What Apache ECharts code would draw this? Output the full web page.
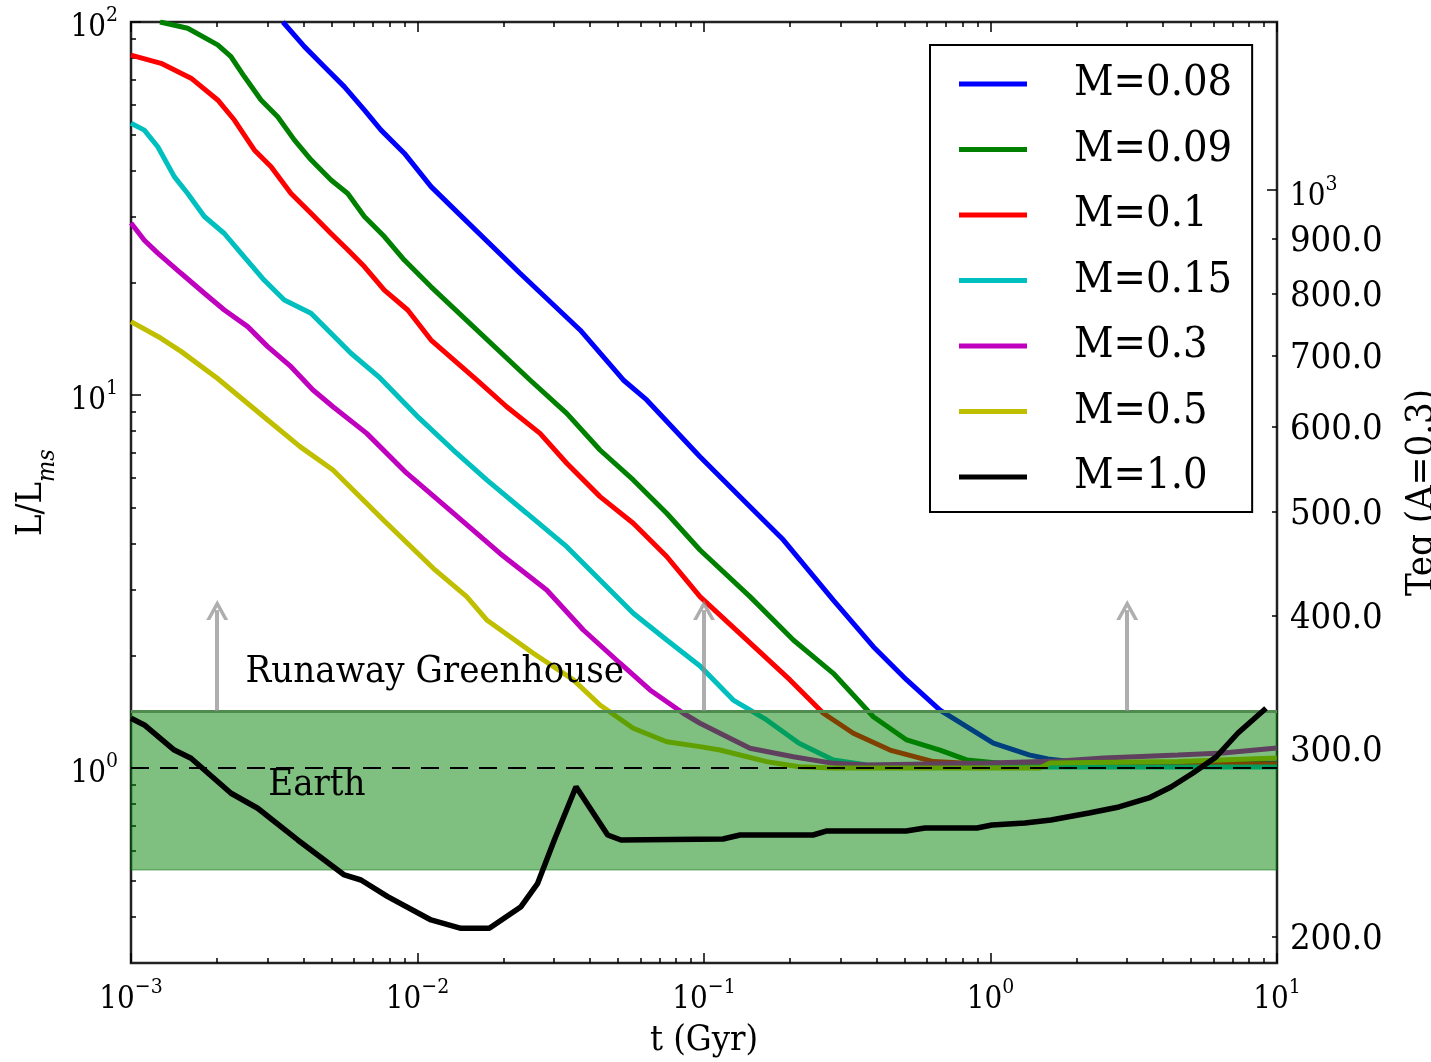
<!DOCTYPE html>
<html>
<head>
<meta charset="utf-8">
<script src="https://cdn.jsdelivr.net/npm/echarts@6/dist/echarts.min.js"></script>
<style>html,body{margin:0;padding:0;background:#fff}#c{width:1431px;height:1062px}</style>
</head>
<body>
<div id="c"></div>
<script>
const FONT = "'DejaVu Serif Condensed', 'DejaVu Serif', serif";

// ---- series data: t (Gyr) and L/Lms for each stellar mass ----
const t008 = [0.00339,0.00403,0.00473,0.00555,0.00652,0.00746,0.00899,0.01115,0.01407,0.02279,0.03693,0.05228,0.0631,0.09683,0.1371,0.1891,0.2827,0.3899,0.5099,0.6664,0.8258,1.023,1.363,1.587,1.956,3.603,10];
const L008 = [100,85.9,75.9,67.1,58.1,51.3,44.5,36.2,30.4,21.2,14.94,10.97,9.70,6.83,5.23,4.09,2.82,2.114,1.722,1.430,1.290,1.165,1.084,1.057,1.038,1.031,1.031];

const t009 = [0.001263,0.001577,0.002007,0.002234,0.002486,0.002843,0.003251,0.003715,0.004249,0.00499,0.005707,0.006522,0.00766,0.008992,0.01115,0.0247,0.03318,0.04335,0.05663,0.0741,0.09683,0.1447,0.205,0.2827,0.3899,0.5099,0.6664,0.8258,1.079,2.411,10];
const L009 = [100,96.2,86.8,80.7,71.4,61.8,55.7,48.3,42.7,37.7,34.7,30.1,26.6,23.0,19.5,10.97,8.93,7.12,5.92,4.82,3.84,2.88,2.203,1.794,1.372,1.189,1.117,1.051,1.029,1.025,1.025];

const t010 = [0.001,0.001273,0.00162,0.002007,0.002295,0.002693,0.003082,0.003618,0.004249,0.00499,0.005707,0.006522,0.00766,0.009243,0.01115,0.01609,0.02048,0.02677,0.03318,0.04335,0.05663,0.0741,0.09683,0.1371,0.1996,0.2609,0.332,0.4459,0.6316,0.8258,2.411,10];
const L010 = [81.5,77.5,70.7,61.8,54.6,45.4,40.9,34.7,30.7,27.1,24.5,22.1,19.1,16.9,14.04,10.97,9.30,7.89,6.56,5.34,4.53,3.69,2.88,2.249,1.722,1.402,1.239,1.117,1.040,1.029,1.025,1.025];

const t015 = [0.001,0.001113,0.00124,0.001416,0.001577,0.001803,0.002117,0.00242,0.00292,0.003428,0.004249,0.00499,0.005859,0.007398,0.01012,0.0137,0.01744,0.02405,0.03318,0.04335,0.05663,0.0741,0.09683,0.1265,0.1655,0.2146,0.2827,0.3698,1.079,10];
const L015 = [53.5,51.3,46.3,38.5,34.7,30.1,27.1,24.0,20.3,17.98,16.56,14.64,12.94,11.11,8.68,6.98,5.92,4.82,3.92,3.19,2.598,2.203,1.877,1.521,1.345,1.165,1.051,1.019,1.006,1.006];

const t030 = [0.001,0.001113,0.00124,0.001495,0.001803,0.002117,0.002555,0.003,0.003618,0.004318,0.005071,0.006649,0.00917,0.01334,0.01941,0.02825,0.03792,0.05091,0.06479,0.08466,0.09683,0.1137,0.1447,0.205,0.2827,0.3698,0.9961,1.748,2.49,4.513,6.479,10];
const L030 = [28.9,26.0,24.0,21.2,18.74,16.9,15.25,13.48,11.91,10.31,9.30,7.89,6.17,4.82,3.76,3.00,2.344,1.909,1.619,1.402,1.318,1.239,1.129,1.072,1.029,1.019,1.031,1.044,1.064,1.084,1.097,1.131];

const t050 = [0.001,0.001273,0.001499,0.002001,0.003,0.00389,0.005071,0.0076,0.01135,0.01485,0.01744,0.02536,0.03499,0.04335,0.05663,0.0741,0.09683,0.1137,0.1655,0.2146,0.2827,1.488,1.613,4.513,10];
const L050 = [15.73,14.19,13.07,11.09,8.57,7.27,6.29,4.62,3.43,2.88,2.494,2.03,1.722,1.475,1.278,1.176,1.141,1.117,1.040,1.008,1.0,1.0,1.031,1.040,1.064];

const t100 = [0.001,0.001113,0.001416,0.00162,0.002234,0.002768,0.003818,0.005553,0.00635,0.00787,0.01115,0.01418,0.01781,0.02298,0.02627,0.03003,0.03575,0.04611,0.05132,0.1165,0.1336,0.2402,0.2687,0.5071,0.5907,0.8972,1.012,1.319,1.626,2.207,2.809,3.574,4.266,5.092,6.126,7.31,9.155];
const L100 = [1.359,1.304,1.117,1.062,0.8555,0.7798,0.6412,0.5166,0.5008,0.4518,0.3913,0.3717,0.3717,0.4247,0.4907,0.6412,0.891,0.6612,0.6412,0.6451,0.6612,0.6612,0.6778,0.6778,0.6904,0.6904,0.7033,0.712,0.7255,0.7574,0.786,0.831,0.8893,0.9696,1.07,1.241,1.446];

const massNames = ['M=0.08','M=0.09','M=0.1','M=0.15','M=0.3','M=0.5','M=1.0'];
const massColors = ['#0000ff','#008000','#ff0000','#00bfbf','#bf00bf','#bfbf00','#000000'];
const tSets = [t008,t009,t010,t015,t030,t050,t100];
const LSets = [L008,L009,L010,L015,L030,L050,L100];

// ---- reference levels / annotations ----
const habBand = [0.533, 1.42];      // green zone in L/Lms
const earthLevel = 1;
const arrowT = [0.002, 0.1, 3];
const arrowFrom = 1.42, arrowTo = 2.65;
const runawayText = {t: 0.0025, L: 1.81, text: 'Runaway Greenhouse'};
const earthText = {t: 0.003, L: 0.90, text: 'Earth'};

// ---- axis ticks ----
const xMajor = [0.001, 0.01, 0.1, 1, 10];
const xMinor = [0.002,0.003,0.004,0.005,0.006,0.007,0.008,0.009,
                0.02,0.03,0.04,0.05,0.06,0.07,0.08,0.09,
                0.2,0.3,0.4,0.5,0.6,0.7,0.8,0.9,
                2,3,4,5,6,7,8,9];
const yMajor = [1, 10, 100];
const yMinor = [0.4,0.5,0.6,0.7,0.8,0.9,2,3,4,5,6,7,8,9,20,30,40,50,60,70,80,90];
const teqLabels = [200,300,400,500,600,700,800,900,1000];
const teqMinor = [200,300,400,500,600,700,800,900];
const teqMajor = [1000];
const teqRange = [189.1, 1436];

function powLabel(v) {
  const e = Math.round(Math.log10(v));
  const s = e < 0 ? '\u2212' + (-e) : String(e);
  return '{b|10}{s|' + s + '}';
}
const richPow = {
  b: {fontSize: 31, fontFamily: FONT, color: '#000', verticalAlign: 'bottom', lineHeight: 38},
  s: {fontSize: 21, fontFamily: FONT, color: '#000', verticalAlign: 'top', lineHeight: 24}
};
const tickStyle = {color: '#000', width: 1.5};

function logX(pos, ticks, len, labels) {
  return {
    type: 'log', logBase: 10, min: 0.001, max: 10, position: pos,
    axisLine: {show: false}, splitLine: {show: false},
    axisTick: {inside: true, length: len, lineStyle: tickStyle, customValues: ticks},
    axisLabel: labels ? {customValues: ticks, formatter: powLabel, rich: richPow, margin: 14} : {show: false}
  };
}
function logY(pos, ticks, len, labels) {
  return {
    type: 'log', logBase: 10, min: 0.3, max: 100, position: pos,
    axisLine: {show: false}, splitLine: {show: false},
    axisTick: {inside: true, length: len, lineStyle: tickStyle, customValues: ticks},
    axisLabel: labels ? {customValues: ticks, formatter: powLabel, rich: richPow, margin: 13, padding: [5, 0, 0, 0]} : {show: false}
  };
}

const xAxes = [logX('bottom', xMajor, 10, true), logX('bottom', xMinor, 5, false),
               logX('top', xMajor, 10, false), logX('top', xMinor, 5, false)];
Object.assign(xAxes[0], {
  name: 't (Gyr)', nameLocation: 'middle', nameGap: 60,
  nameTextStyle: {fontSize: 36, fontFamily: FONT, color: '#000'}
});

const yLeft = logY('left', yMajor, 10, true);
Object.assign(yLeft, {
  name: '{a|L/L}{b|ms}', nameLocation: 'middle', nameGap: 68,
  nameTextStyle: {
    fontFamily: FONT, color: '#000',
    rich: {
      a: {fontSize: 36, fontFamily: FONT, color: '#000', verticalAlign: 'top', lineHeight: 46},
      b: {fontSize: 25, fontFamily: FONT, fontStyle: 'italic', color: '#000', verticalAlign: 'bottom', lineHeight: 30}
    }
  }
});
const yLeftMinor = logY('left', yMinor, 5, false);

const yTeq = {
  type: 'log', logBase: 10, min: teqRange[0], max: teqRange[1], position: 'right',
  axisLine: {show: false}, splitLine: {show: false},
  axisTick: {inside: true, length: 5, lineStyle: tickStyle, customValues: teqMinor},
  axisLabel: {
    customValues: teqLabels, margin: 13, padding: [6, 0, 0, 0],
    fontSize: 36, fontFamily: FONT, color: '#000',
    formatter: v => (Math.abs(v - 1000) < 1e-6 ? '{b|10}{s|3}' : Number(v).toFixed(1)),
    rich: richPow
  },
  name: 'Teq (A=0.3)', nameLocation: 'middle', nameGap: 126,
  nameTextStyle: {fontSize: 38, fontFamily: FONT, color: '#000'}
};
const yTeqMajor = {
  type: 'log', logBase: 10, min: teqRange[0], max: teqRange[1], position: 'right',
  axisLine: {show: false}, splitLine: {show: false},
  axisTick: {inside: true, length: 10, lineStyle: tickStyle, customValues: teqMajor},
  axisLabel: {show: false}
};

const series = massNames.map((name, i) => ({
  name: name, type: 'line', xAxisIndex: 0, yAxisIndex: 0,
  data: tSets[i].map((t, j) => [t, LSets[i][j]]),
  showSymbol: false, symbol: 'none', smooth: false,
  lineStyle: {color: massColors[i], width: i === 6 ? 5.5 : 5},
  itemStyle: {color: massColors[i]},
  z: i === 6 ? 4 : 2
}));

series.push({
  name: 'band', type: 'line', data: [], xAxisIndex: 0, yAxisIndex: 0, z: 3,
  markArea: {
    silent: true, z: 3,
    itemStyle: {color: 'rgba(0,128,0,0.5)', borderColor: 'rgba(0,110,0,0.35)', borderWidth: 1.5},
    data: [[{yAxis: habBand[0]}, {yAxis: habBand[1]}]]
  },
  markLine: {
    silent: true, symbol: 'none', z: 3, label: {show: false},
    lineStyle: {color: '#4f8a4f', width: 3, type: 'solid'},
    data: [{yAxis: habBand[1]}]
  }
});

series.push({
  name: 'earth', type: 'line', data: [], xAxisIndex: 0, yAxisIndex: 0, z: 5,
  markLine: {
    silent: true, symbol: 'none', label: {show: false},
    lineStyle: {color: '#000', width: 2, type: [18, 11]},
    data: [{yAxis: earthLevel}]
  },
  markPoint: {
    silent: true, symbol: 'rect', symbolSize: 1, itemStyle: {color: 'rgba(0,0,0,0)'},
    label: {show: true, position: 'right', distance: 0, color: '#000', fontSize: 38, fontFamily: FONT,
            formatter: p => p.name},
    data: [
      {name: runawayText.text, coord: [runawayText.t, runawayText.L]},
      {name: earthText.text, coord: [earthText.t, earthText.L]}
    ]
  }
});

series.push({
  name: 'arrows', type: 'line', data: [], xAxisIndex: 0, yAxisIndex: 0, z: 6,
  markLine: {
    silent: true,
    symbol: ['none', 'path://M0,10 L5,0 L10,10 L8.2,10 L5,3.6 L1.8,10 Z'],
    symbolSize: [22, 20],
    label: {show: false},
    lineStyle: {color: 'rgba(140,140,140,0.7)', width: 4, type: 'solid'},
    data: arrowT.map(t => [{coord: [t, arrowFrom]}, {coord: [t, arrowTo]}])
  }
});

const chart = echarts.init(document.getElementById('c'), null, {renderer: 'canvas'});
chart.setOption({
  animation: false,
  backgroundColor: '#fff',
  grid: {left: 131, top: 22, width: 1146, height: 941, show: true, borderColor: '#222', borderWidth: 2.5,
         backgroundColor: 'transparent', containLabel: false, outerBoundsMode: 'none'},
  legend: {
    data: massNames, orient: 'vertical', left: 930, top: 45,
    icon: 'rect', itemWidth: 68, itemHeight: 5, itemGap: 21.5,
    padding: [17, 20, 13, 29],
    borderColor: '#000', borderWidth: 2, backgroundColor: '#fff',
    textStyle: {fontSize: 43, fontFamily: FONT, color: '#000', lineHeight: 44, padding: [0, 0, 0, 42]},
    selectedMode: false
  },
  xAxis: xAxes,
  yAxis: [yLeft, yTeq, yTeqMajor, yLeftMinor],
  series: series
});
</script>
</body>
</html>
